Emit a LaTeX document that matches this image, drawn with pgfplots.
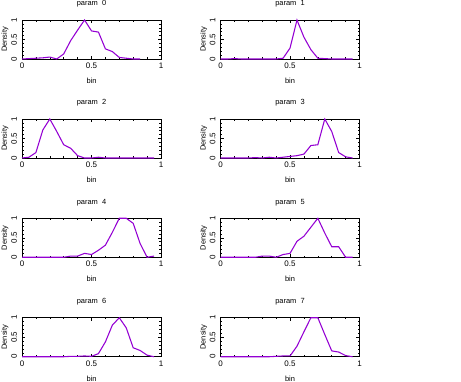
\documentclass[border=0pt]{standalone}
\usepackage{fontspec}
\setmainfont{Liberation Sans}
\usepackage{pgfplots}
\pgfplotsset{compat=1.18}
\definecolor{gpviolet}{RGB}{148,0,211}

\pgfplotsset{
  panel/.style={
    scale only axis, width=104.25pt, height=29.25pt,
    xmin=0, xmax=1, ymin=0, ymax=1,
    xtick={0,0.5,1}, ytick={0,0.5,1},
    minor x tick num=4, minor y tick num=4,
    tick align=inside, major tick length=2.4pt, minor tick length=1.3pt,
    every tick/.style={black, line width=0.4pt},
    axis line style={black, line width=0.6pt},
    clip=false,
    font=\fontsize{5.6}{6.5}\selectfont,
    /pgf/number format/assume math mode=true,
    every axis title shift=0pt,
    xticklabel style={anchor=center, inner sep=0pt, font=\fontsize{6}{7}\selectfont},
    xticklabel shift=5.2pt,
    yticklabel style={rotate=90, anchor=center, inner sep=0pt, font=\fontsize{6}{7}\selectfont},
    yticklabel shift=6pt,
    xlabel={bin}, ylabel={Density},
    xlabel style={at={(axis description cs:0.5,-0.56)}, anchor=center, inner sep=0pt},
    ylabel style={at={(axis description cs:-0.122,0.5)}, anchor=center, inner sep=0pt},
    title style={at={(axis description cs:0.5,1.41)}, anchor=center, inner sep=0pt},
  },
  dens/.style={gpviolet, line width=0.8pt, no marks},
}

\begin{document}
\begin{tikzpicture}
\path (0,0) rectangle (345.75pt,-286.5pt);

\begin{axis}[panel, title={param\ \ 0}, at={(16.5pt,-15pt)}, anchor=north west]
\addplot[dens] coordinates {
  (0,0) (0.05,0.01) (0.1,0.02) (0.15,0.03) (0.2,0.05) (0.25,0) (0.3,0.13)
  (0.35,0.47) (0.4,0.74) (0.45,1) (0.5,0.72) (0.55,0.69) (0.6,0.26)
  (0.65,0.19) (0.7,0.04) (0.75,0.02) (0.8,0) (0.85,0)};
\end{axis}

\begin{axis}[panel, title={param\ \ 1}, at={(165.4pt,-15pt)}, anchor=north west]
\addplot[dens] coordinates {
  (0,0) (0.05,0) (0.1,0.01) (0.15,0) (0.2,0) (0.25,0) (0.3,0) (0.35,0)
  (0.4,0) (0.45,0.02) (0.5,0.28) (0.55,1) (0.6,0.56) (0.65,0.24)
  (0.7,0.02) (0.75,0.01) (0.8,0) (0.85,0) (0.9,0) (0.95,0)};
\end{axis}

\begin{axis}[panel, title={param\ \ 2}, at={(16.5pt,-89.25pt)}, anchor=north west]
\addplot[dens] coordinates {
  (0,0) (0.05,0.02) (0.1,0.14) (0.15,0.72) (0.2,1) (0.25,0.68) (0.3,0.34)
  (0.35,0.25) (0.4,0.06) (0.45,0) (0.5,0) (0.55,0.02) (0.6,0) (0.65,0)
  (0.7,0) (0.75,0) (0.8,0) (0.85,0) (0.9,0) (0.95,0)};
\end{axis}

\begin{axis}[panel, title={param\ \ 3}, at={(165.4pt,-89.25pt)}, anchor=north west]
\addplot[dens] coordinates {
  (0,0) (0.05,0) (0.1,0) (0.15,0) (0.2,0) (0.25,0.01) (0.3,0) (0.35,0.02)
  (0.4,0) (0.45,0.02) (0.5,0.04) (0.55,0.06) (0.6,0.1) (0.65,0.32)
  (0.7,0.34) (0.75,1) (0.8,0.68) (0.85,0.14) (0.9,0.03) (0.95,0)};
\end{axis}

\begin{axis}[panel, title={param\ \ 4}, at={(16.5pt,-163.7pt)}, anchor=north west]
\addplot[dens] coordinates {
  (0,0) (0.05,0) (0.1,0) (0.15,0) (0.2,0) (0.25,0) (0.3,0) (0.35,0.03)
  (0.4,0.03) (0.45,0.1) (0.5,0.07) (0.55,0.18) (0.6,0.31) (0.65,0.64)
  (0.7,1) (0.75,1) (0.8,0.87) (0.85,0.35) (0.9,0) (0.95,0.03)};
\end{axis}

\begin{axis}[panel, title={param\ \ 5}, at={(165.4pt,-163.7pt)}, anchor=north west]
\addplot[dens] coordinates {
  (0,0) (0.05,0) (0.1,0) (0.15,0) (0.2,0) (0.25,0) (0.3,0.03) (0.35,0.03)
  (0.4,0) (0.45,0.07) (0.5,0.1) (0.55,0.41) (0.6,0.54) (0.65,0.77)
  (0.7,1) (0.75,0.62) (0.8,0.27) (0.85,0.27) (0.9,0) (0.95,0)};
\end{axis}

\begin{axis}[panel, title={param\ \ 6}, at={(16.5pt,-238.3pt)}, anchor=north west]
\addplot[dens] coordinates {
  (0,0) (0.05,0) (0.1,0) (0.15,0) (0.2,0) (0.25,0) (0.3,0) (0.35,0.01)
  (0.4,0.01) (0.45,0.02) (0.5,0.01) (0.55,0.08) (0.6,0.38) (0.65,0.81)
  (0.7,1) (0.75,0.74) (0.8,0.23) (0.85,0.16) (0.9,0.04) (0.95,0)};
\end{axis}

\begin{axis}[panel, title={param\ \ 7}, at={(165.4pt,-238.3pt)}, anchor=north west]
\addplot[dens] coordinates {
  (0,0) (0.05,0) (0.1,0) (0.15,0) (0.2,0) (0.25,0) (0.3,0) (0.35,0)
  (0.4,0.01) (0.45,0.02) (0.5,0.02) (0.55,0.27) (0.6,0.64) (0.65,1)
  (0.7,1) (0.75,0.57) (0.8,0.15) (0.85,0.12) (0.9,0.03) (0.95,0)};
\end{axis}
\end{tikzpicture}
\end{document}
